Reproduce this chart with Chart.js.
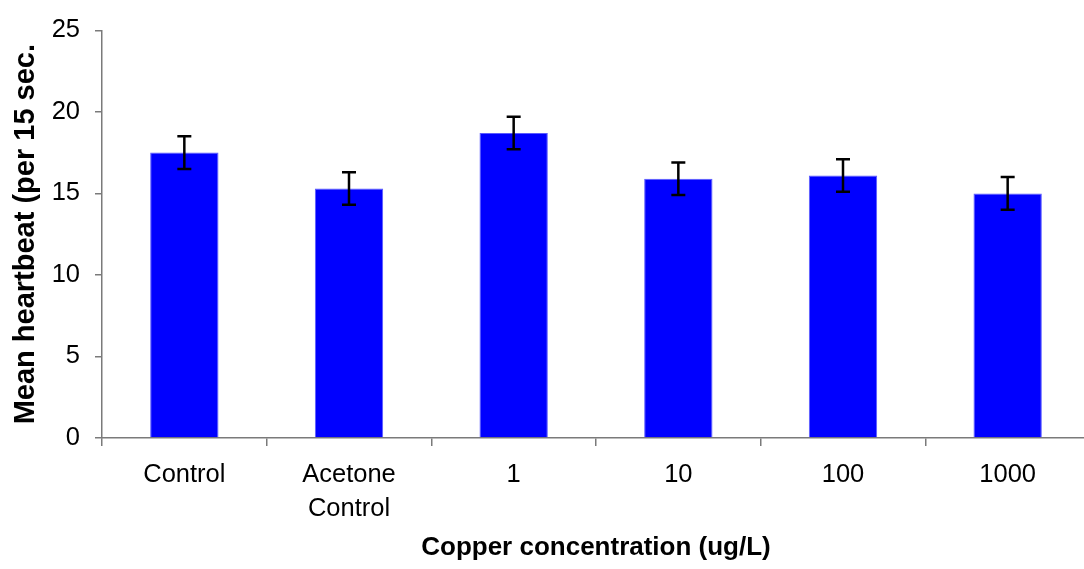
<!DOCTYPE html>
<html>
<head>
<meta charset="utf-8">
<script src="https://cdn.jsdelivr.net/npm/chart.js@4/dist/chart.umd.min.js"></script>
<style>
  html, body { margin: 0; padding: 0; background: #fff; overflow: hidden; }
  #wrap { width: 1090px; height: 569px; }
</style>
</head>
<body>
<div id="wrap"><canvas id="heartChart"></canvas></div>
<script>
const categories = ['Control', ['Acetone', 'Control'], '1', '10', '100', '1000'];
const meanHeartbeat = [17.5, 15.3, 18.7, 15.9, 16.1, 15.0];
const errorValues = [1, 1, 1, 1, 1, 1];
const yTicks = [0, 5, 10, 15, 20, 25];

const FONT = 'Arial, "Liberation Sans", sans-serif';
const AXIS_GREY = '#7a7a7a';

// draws the +/- error whiskers on top of each bar
const errorBarPlugin = {
  id: 'errorBars',
  afterDatasetsDraw(chart) {
    const { ctx, scales: { y } } = chart;
    const meta = chart.getDatasetMeta(0);
    ctx.save();
    ctx.strokeStyle = '#000';
    ctx.lineWidth = 2.5;
    meta.data.forEach((bar, i) => {
      const v = meanHeartbeat[i], e = errorValues[i];
      const top = y.getPixelForValue(v + e);
      const bot = y.getPixelForValue(v - e);
      const x = bar.x;
      ctx.beginPath();
      ctx.moveTo(x, top); ctx.lineTo(x, bot);
      ctx.moveTo(x - 7, top); ctx.lineTo(x + 7, top);
      ctx.moveTo(x - 7, bot); ctx.lineTo(x + 7, bot);
      ctx.stroke();
    });
    ctx.restore();
  }
};

new Chart(document.getElementById('heartChart'), {
  type: 'bar',
  data: {
    labels: categories,
    datasets: [{
      data: meanHeartbeat,
      backgroundColor: '#0000ff',
      borderColor: '#5a5aff',
      borderWidth: 1,
      barPercentage: 0.415,
      categoryPercentage: 1
    }]
  },
  options: {
    responsive: true,
    maintainAspectRatio: false,
    animation: false,
    layout: { padding: { top: 24, right: 0, left: 0, bottom: 0 } },
    plugins: { legend: { display: false }, tooltip: { enabled: false } },
    scales: {
      x: {
        grid: { offset: true, drawOnChartArea: false, drawTicks: true, tickLength: 8, color: AXIS_GREY, lineWidth: 1.5 },
        border: { display: true, color: AXIS_GREY, width: 1.5 },
        ticks: { color: '#000', font: { family: FONT, size: 25.5, lineHeight: 1.33 }, padding: 12, maxRotation: 0, autoSkip: false },
        title: { display: true, text: 'Copper concentration (ug/L)', color: '#000', font: { family: FONT, size: 26, weight: 'bold', lineHeight: 1.2 }, padding: { top: 0, bottom: 6 } },
        afterFit(scale) { scale.height = 131; }
      },
      y: {
        min: 0,
        max: 25,
        afterBuildTicks(scale) { scale.ticks = yTicks.map(v => ({ value: v })); },
        grid: { drawOnChartArea: false, drawTicks: true, tickLength: 7, color: AXIS_GREY, lineWidth: 1.5 },
        border: { display: true, color: AXIS_GREY, width: 1.5 },
        ticks: { color: '#000', font: { family: FONT, size: 25.5 }, padding: 15 },
        title: { display: true, text: 'Mean heartbeat (per 15 sec.', color: '#000', font: { family: FONT, size: 29, weight: 'bold', lineHeight: 1.2 }, padding: { top: 9, bottom: 0 } },
        afterFit(scale) { scale.width = 102; }
      }
    }
  },
  plugins: [errorBarPlugin]
});
</script>
</body>
</html>
